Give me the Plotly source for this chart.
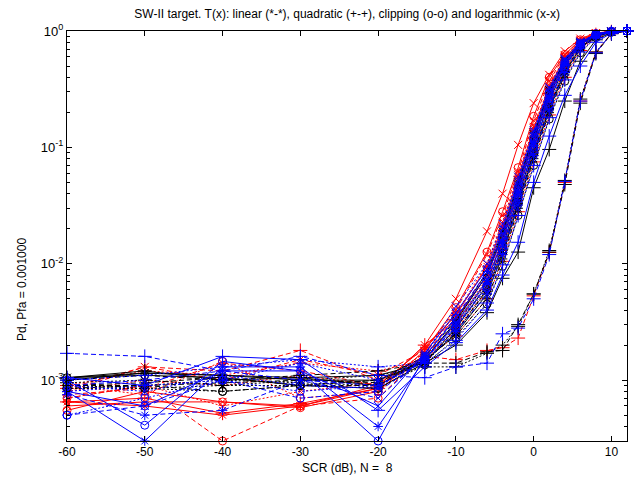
import numpy as np
import plotly.graph_objects as go

SCR_DB = [-60, -50, -40, -30, -20, -14, -10, -6, -4, -2, 0, 2, 4, 6, 8, 10, 12]

# red curves
PD_R_SOLID_LOG  = [6.0e-4, 6.5e-4, 6.5e-4, 6.0e-4, 8.5e-4, 2.0e-3, 5.0e-3, 0.019, 0.040, 0.105, 0.24, 0.42, 0.67, 0.86, 0.96, 0.995, 1.0]
PD_R_SOLID_CLIP = [5.5e-4, 8.0e-4, 6.5e-4, 5.8e-4, 8.0e-4, 1.8e-3, 4.2e-3, 0.0126, 0.028, 0.067, 0.185, 0.40, 0.63, 0.84, 0.95, 0.99, 1.0]
PD_R_SOLID_LIN  = [6.5e-4, 6.0e-4, 5.0e-4, 6.0e-4, 9.0e-4, 1.9e-3, 3.6e-3, 9.5e-3, 0.021, 0.056, 0.145, 0.33, 0.59, 0.81, 0.94, 0.99, 1.0]
PD_R_SOLID_QUAD = [6.5e-4, 7.0e-4, 5.2e-4, 6.3e-4, 8.5e-4, 2.0e-3, 3.3e-3, 8.0e-3, 0.017, 0.045, 0.12, 0.29, 0.54, 0.78, 0.93, 0.985, 1.0]
PD_R_DASH_LOG   = [8.0e-4, 1.3e-3, 1.0e-3, 1.5e-3, 1.1e-3, 1.8e-3, 4.0e-3, 0.012, 0.026, 0.062, 0.17, 0.37, 0.62, 0.83, 0.95, 0.99, 1.0]
PD_R_DASH_CLIP  = [7.0e-4, 9.0e-4, 3.0e-4, 6.0e-4, 7.0e-4, 1.7e-3, 3.4e-3, 8.5e-3, 0.019, 0.050, 0.13, 0.31, 0.56, 0.79, 0.93, 0.99, 1.0]
PD_R_DASH_LIN   = [7.5e-4, 8.5e-4, 1.4e-3, 1.2e-3, 9.0e-4, 1.6e-3, 3.0e-3, 7.0e-3, 0.015, 0.041, 0.11, 0.27, 0.52, 0.77, 0.93, 0.985, 1.0]
PD_R_DASH_QUAD  = [8.5e-4, 1.3e-3, 1.2e-3, 1.8e-3, 1.0e-3, 1.6e-3, 1.5e-3, 1.8e-3, 1.9e-3, 2.3e-3, 5.3e-3, 0.0125, 0.05, 0.25, 0.66, 0.95, 1.0]
PD_R_DOT_LOG    = [7.0e-4, 9.0e-4, 6.0e-4, 8.0e-4, 9.5e-4, 1.7e-3, 3.7e-3, 0.010, 0.023, 0.058, 0.15, 0.34, 0.60, 0.82, 0.94, 0.99, 1.0]
PD_R_DOT_CLIP   = [9.0e-4, 7.5e-4, 1.45e-3, 7.0e-4, 8.0e-4, 1.6e-3, 3.1e-3, 7.5e-3, 0.016, 0.044, 0.115, 0.28, 0.53, 0.77, 0.93, 0.985, 1.0]
PD_R_DOT_LIN    = [8.0e-4, 1.0e-3, 9.0e-4, 1.1e-3, 9.0e-4, 1.5e-3, 2.7e-3, 6.0e-3, 0.013, 0.035, 0.093, 0.23, 0.47, 0.73, 0.91, 0.98, 1.0]
PD_R_DOT_QUAD   = [9.0e-4, 1.2e-3, 1.1e-3, 1.4e-3, 1.2e-3, 1.5e-3, 2.4e-3, 5.0e-3, 0.0105, 0.028, 0.075, 0.19, 0.40, 0.68, 0.89, 0.975, 1.0]

# black curves
PD_K_SOLID_LOG  = [1.05e-3, 1.15e-3, 1.1e-3, 1.05e-3, 9.0e-4, 1.5e-3, 3.2e-3, 8.0e-3, 0.018, 0.048, 0.125, 0.30, 0.55, 0.79, 0.93, 0.99, 1.0]
PD_K_SOLID_CLIP = [1.05e-3, 1.1e-3, 1.05e-3, 9.0e-4, 8.5e-4, 1.4e-3, 2.8e-3, 6.5e-3, 0.014, 0.038, 0.10, 0.25, 0.50, 0.76, 0.92, 0.985, 1.0]
PD_K_SOLID_LIN  = [1.0e-3, 1.15e-3, 1.1e-3, 1.0e-3, 1.0e-3, 1.45e-3, 2.5e-3, 5.5e-3, 0.012, 0.032, 0.085, 0.21, 0.44, 0.71, 0.90, 0.98, 1.0]
PD_K_SOLID_QUAD = [1.05e-3, 1.2e-3, 1.0e-3, 1.05e-3, 1.1e-3, 1.4e-3, 2.0e-3, 3.8e-3, 7.5e-3, 0.0126, 0.045, 0.096, 0.25, 0.55, 0.84, 0.97, 1.0]
PD_K_DASH_LOG   = [9.0e-4, 9.5e-4, 1.05e-3, 9.0e-4, 1.0e-3, 1.6e-3, 3.3e-3, 8.5e-3, 0.019, 0.05, 0.13, 0.31, 0.56, 0.80, 0.94, 0.99, 1.0]
PD_K_DASH_CLIP  = [9.0e-4, 9.0e-4, 8.0e-4, 9.0e-4, 9.0e-4, 1.45e-3, 2.6e-3, 6.0e-3, 0.013, 0.034, 0.09, 0.22, 0.46, 0.73, 0.91, 0.98, 1.0]
PD_K_DASH_LIN   = [8.5e-4, 9.0e-4, 9.5e-4, 1.0e-3, 9.5e-4, 1.5e-3, 2.4e-3, 5.0e-3, 0.011, 0.030, 0.08, 0.20, 0.42, 0.70, 0.90, 0.98, 1.0]
PD_K_DASH_QUAD  = [1.0e-3, 1.1e-3, 1.0e-3, 1.1e-3, 1.2e-3, 1.4e-3, 1.4e-3, 1.75e-3, 1.8e-3, 3.0e-3, 5.5e-3, 0.0126, 0.048, 0.24, 0.64, 0.95, 1.0]
PD_K_DOT_LOG    = [8.5e-4, 9.0e-4, 1.0e-3, 9.5e-4, 9.0e-4, 1.55e-3, 3.0e-3, 7.0e-3, 0.016, 0.043, 0.115, 0.28, 0.53, 0.78, 0.93, 0.985, 1.0]
PD_K_DOT_CLIP   = [8.5e-4, 8.5e-4, 8.0e-4, 9.0e-4, 8.5e-4, 1.35e-3, 2.3e-3, 4.5e-3, 0.0095, 0.026, 0.07, 0.175, 0.37, 0.65, 0.88, 0.975, 1.0]
PD_K_DOT_LIN    = [9.0e-4, 8.5e-4, 9.0e-4, 9.0e-4, 1.0e-3, 1.4e-3, 2.6e-3, 5.8e-3, 0.0125, 0.033, 0.088, 0.215, 0.45, 0.72, 0.91, 0.98, 1.0]
PD_K_DOT_QUAD   = [9.5e-4, 1.0e-3, 9.0e-4, 1.0e-3, 1.1e-3, 1.3e-3, 1.3e-3, 1.7e-3, 2.0e-3, 2.9e-3, 5.5e-3, 0.013, 0.052, 0.26, 0.66, 0.95, 1.0]

# blue curves
PD_B_SOLID_LOG  = [8.0e-4, 6.0e-4, 1.2e-3, 1.2e-3, 6.0e-4, 1.7e-3, 3.8e-3, 9.0e-3, 0.020, 0.052, 0.135, 0.32, 0.57, 0.80, 0.94, 0.99, 1.0]
PD_B_SOLID_CLIP = [1.0e-3, 4.1e-4, 1.45e-3, 1.2e-3, 3.0e-4, 1.6e-3, 3.4e-3, 8.0e-3, 0.017, 0.045, 0.12, 0.29, 0.54, 0.79, 0.95, 0.995, 1.0]
PD_B_SOLID_LIN  = [8.0e-4, 3.0e-4, 1.3e-3, 1.3e-3, 4.0e-4, 1.5e-3, 3.1e-3, 7.2e-3, 0.0155, 0.042, 0.11, 0.27, 0.52, 0.77, 0.93, 0.99, 1.0]
PD_B_SOLID_QUAD = [1.05e-3, 9.0e-4, 1.6e-3, 1.5e-3, 5.5e-4, 1.3e-3, 2.1e-3, 4.0e-3, 8.0e-3, 0.0153, 0.05, 0.125, 0.28, 0.50, 0.80, 0.96, 1.0]
PD_B_DASH_LOG   = [9.0e-4, 1.0e-3, 1.2e-3, 1.0e-3, 7.0e-4, 1.6e-3, 3.5e-3, 8.5e-3, 0.018, 0.047, 0.125, 0.30, 0.55, 0.79, 0.94, 0.99, 1.0]
PD_B_DASH_CLIP  = [5.0e-4, 6.0e-4, 1.0e-3, 7.0e-4, 8.0e-4, 1.5e-3, 2.9e-3, 6.5e-3, 0.014, 0.038, 0.10, 0.25, 0.50, 0.76, 0.93, 0.99, 1.0]
PD_B_DASH_LIN   = [7.5e-4, 5.0e-4, 5.5e-4, 1.0e-3, 9.0e-4, 1.45e-3, 2.6e-3, 5.5e-3, 0.012, 0.032, 0.085, 0.21, 0.44, 0.71, 0.91, 0.985, 1.0]
PD_B_DASH_QUAD  = [1.7e-3, 1.6e-3, 1.2e-3, 1.6e-3, 1.1e-3, 1.05e-3, 1.3e-3, 1.4e-3, 2.5e-3, 2.8e-3, 5.0e-3, 0.012, 0.051, 0.25, 0.65, 0.95, 1.0]
PD_B_DOT_LOG    = [9.0e-4, 8.0e-4, 1.1e-3, 9.0e-4, 8.5e-4, 1.65e-3, 4.3e-3, 0.010, 0.022, 0.056, 0.14, 0.33, 0.58, 0.81, 0.94, 0.99, 1.0]
PD_B_DOT_CLIP   = [5.0e-4, 7.0e-4, 1.0e-3, 8.0e-4, 9.0e-4, 1.5e-3, 2.8e-3, 6.2e-3, 0.013, 0.036, 0.095, 0.23, 0.48, 0.75, 0.92, 0.985, 1.0]
PD_B_DOT_LIN    = [8.0e-4, 9.0e-4, 1.0e-3, 1.4e-3, 1.0e-3, 1.55e-3, 2.9e-3, 6.8e-3, 0.0145, 0.039, 0.105, 0.26, 0.51, 0.76, 0.92, 0.985, 1.0]
PD_B_DOT_QUAD   = [1.0e-3, 1.1e-3, 1.3e-3, 1.5e-3, 1.3e-3, 1.4e-3, 2.2e-3, 4.6e-3, 0.0098, 0.026, 0.07, 0.18, 0.38, 0.66, 0.88, 0.975, 1.0]

X_TICKS = [-60, -50, -40, -30, -20, -10, 0, 10]
X_TICK_TEXT = ["-60", "-50", "-40", "-30", "-20", "-10", "0", "10"]
Y_TICKS = [1e-3, 1e-2, 1e-1, 1.0]
Y_TICK_TEXT = ["10<sup>-3</sup>", "10<sup>-2</sup>", "10<sup>-1</sup>", "10<sup>0</sup>"]

TITLE = "SW-II target. T(x): linear (*-*), quadratic (+-+), clipping (o-o) and logarithmic (x-x)"
XLABEL = "SCR (dB), N =  8"
YLABEL = "Pd, Pfa = 0.001000"

COLORS = {"r": "#ff0000", "k": "#000000", "b": "#0000ff"}
DASHES = {"solid": "solid", "dash": "5px,3px", "dot": "2px,2px"}
SYMBOLS = {"lin": ("asterisk-open", 8), "quad": ("cross-thin-open", 10),
           "clip": ("circle-open", 8), "log": ("x-thin-open", 8)}

SERIES = [
    ("r", "solid", "log", PD_R_SOLID_LOG), ("r", "solid", "clip", PD_R_SOLID_CLIP),
    ("r", "solid", "lin", PD_R_SOLID_LIN), ("r", "solid", "quad", PD_R_SOLID_QUAD),
    ("r", "dash", "log", PD_R_DASH_LOG), ("r", "dash", "clip", PD_R_DASH_CLIP),
    ("r", "dash", "lin", PD_R_DASH_LIN), ("r", "dash", "quad", PD_R_DASH_QUAD),
    ("r", "dot", "log", PD_R_DOT_LOG), ("r", "dot", "clip", PD_R_DOT_CLIP),
    ("r", "dot", "lin", PD_R_DOT_LIN), ("r", "dot", "quad", PD_R_DOT_QUAD),
    ("k", "solid", "log", PD_K_SOLID_LOG), ("k", "solid", "clip", PD_K_SOLID_CLIP),
    ("k", "solid", "lin", PD_K_SOLID_LIN), ("k", "solid", "quad", PD_K_SOLID_QUAD),
    ("k", "dash", "log", PD_K_DASH_LOG), ("k", "dash", "clip", PD_K_DASH_CLIP),
    ("k", "dash", "lin", PD_K_DASH_LIN), ("k", "dash", "quad", PD_K_DASH_QUAD),
    ("k", "dot", "log", PD_K_DOT_LOG), ("k", "dot", "clip", PD_K_DOT_CLIP),
    ("k", "dot", "lin", PD_K_DOT_LIN), ("k", "dot", "quad", PD_K_DOT_QUAD),
    ("b", "solid", "log", PD_B_SOLID_LOG), ("b", "solid", "clip", PD_B_SOLID_CLIP),
    ("b", "solid", "lin", PD_B_SOLID_LIN), ("b", "solid", "quad", PD_B_SOLID_QUAD),
    ("b", "dash", "log", PD_B_DASH_LOG), ("b", "dash", "clip", PD_B_DASH_CLIP),
    ("b", "dash", "lin", PD_B_DASH_LIN), ("b", "dash", "quad", PD_B_DASH_QUAD),
    ("b", "dot", "log", PD_B_DOT_LOG), ("b", "dot", "clip", PD_B_DOT_CLIP),
    ("b", "dot", "lin", PD_B_DOT_LIN), ("b", "dot", "quad", PD_B_DOT_QUAD),
]

FONT = "Liberation Sans, Arial, Helvetica, sans-serif"

fig = go.Figure()
for c, d, m, vals in SERIES:
    sym, size = SYMBOLS[m]
    fig.add_trace(go.Scatter(
        x=SCR_DB, y=vals, mode="lines+markers", cliponaxis=False,
        line=dict(color=COLORS[c], width=1, dash=DASHES[d]),
        marker=dict(symbol=sym, size=size, color=COLORS[c],
                    line=dict(color=COLORS[c], width=1)),
        showlegend=False, hoverinfo="skip"))

minor_vals = [m * 10.0 ** e for e in range(-4, 0) for m in range(2, 10) if m * 10.0 ** e >= 3e-4]

fig.update_layout(
    width=637, height=479,
    margin=dict(l=67, r=10, t=31, b=38),
    paper_bgcolor="white", plot_bgcolor="white",
    font=dict(family=FONT, size=12, color="black"),
    title=dict(text=TITLE, x=0.545, xanchor="center", y=1 - 14 / 479, yanchor="middle",
               font=dict(size=12, color="black")),
)
fig.update_xaxes(
    range=[-60, 12], tickvals=X_TICKS, ticktext=X_TICK_TEXT, ticks="inside", ticklen=5,
    tickcolor="black", showline=True, linecolor="black", linewidth=1, mirror="ticks",
    showgrid=False, zeroline=False, tickfont=dict(size=12, color="black"))
fig.update_yaxes(
    type="log", range=[np.log10(3.0e-4), 0], tickvals=Y_TICKS, ticktext=Y_TICK_TEXT,
    ticks="inside", ticklen=5, tickcolor="black",
    showline=True, linecolor="black", linewidth=1, mirror="ticks",
    showgrid=False, zeroline=False, tickfont=dict(size=13, color="black"),
    minor=dict(tickvals=minor_vals, ticks="inside", ticklen=3, tickcolor="black", showgrid=False))

fig.add_annotation(text=XLABEL, xref="paper", yref="paper", x=0.5, y=-27 / 410,
                   xanchor="center", yanchor="middle", showarrow=False,
                   font=dict(size=12, color="black"))
fig.add_annotation(text=YLABEL, xref="paper", yref="paper", x=-45 / 560, y=(441 - 290) / 410,
                   xanchor="center", yanchor="middle", textangle=-90, showarrow=False,
                   font=dict(size=12, color="black"))

fig.write_html("out.html")
